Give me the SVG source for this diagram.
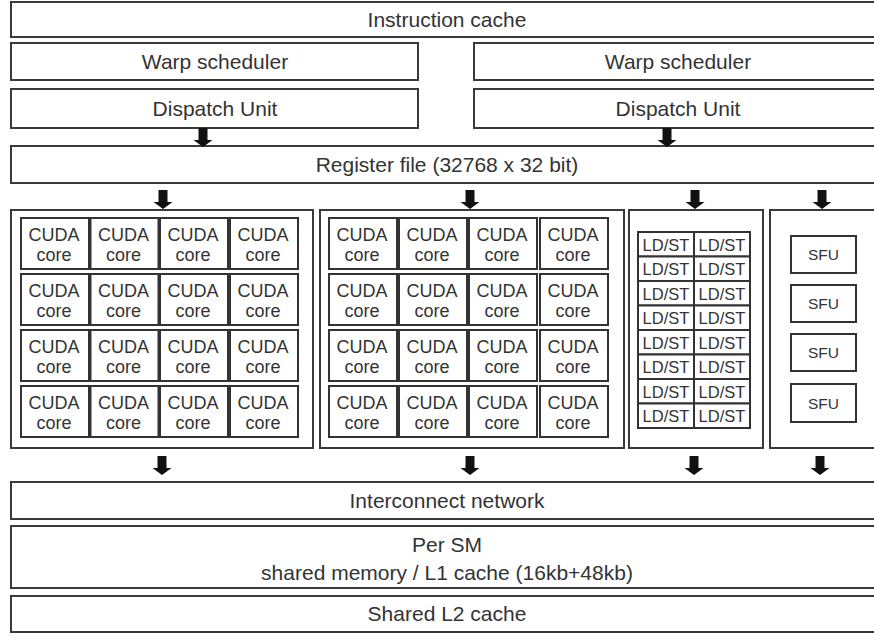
<svg xmlns="http://www.w3.org/2000/svg" width="874" height="637" viewBox="0 0 874 637">
<style>
  .box { fill: #fff; stroke: #3a3a3a; stroke-width: 2; }
  .cell { fill: #fff; stroke: #333; stroke-width: 2; }
  .t { font-family: "Liberation Sans", Arial, sans-serif; font-size: 21px; fill: #333; text-anchor: middle; }
  .c { font-family: "Liberation Sans", Arial, sans-serif; font-size: 18px; fill: #333; text-anchor: middle; }
  .ld { font-family: "Liberation Sans", Arial, sans-serif; font-size: 16.5px; fill: #333; text-anchor: middle; }
  .sfu { font-family: "Liberation Sans", Arial, sans-serif; font-size: 15.5px; fill: #333; text-anchor: middle; }
  .arr { fill: #111; }
</style>
<defs>
  <g id="cuda">
    <rect class="cell" x="0" y="0" width="68" height="51"/>
    <text class="c" x="33" y="23">CUDA</text>
    <text class="c" x="33" y="43">core</text>
  </g>
  <g id="ldst">
    <rect class="cell" x="0" y="0" width="56" height="24.5"/>
    <text class="ld" x="28" y="18.5">LD/ST</text>
  </g>
  <g id="arrow">
    <polygon points="-4.5,0 4.5,0 4.5,12 9.5,12 0,19 -9.5,12 -4.5,12"/>
  </g>
</defs>
<rect width="874" height="637" fill="#fff"/>

<g id="instruction-cache">
  <rect class="box" x="11" y="2" width="872" height="35"/>
  <text class="t" x="447" y="27">Instruction cache</text>
</g>
<g id="warp-scheduler-1">
  <rect class="box" x="11" y="43" width="407" height="37"/>
  <text class="t" x="215" y="69">Warp scheduler</text>
</g>
<g id="warp-scheduler-2">
  <rect class="box" x="474" y="43" width="409" height="37"/>
  <text class="t" x="678" y="69">Warp scheduler</text>
</g>
<g id="dispatch-unit-1">
  <rect class="box" x="11" y="89" width="407" height="39"/>
  <text class="t" x="215" y="116">Dispatch Unit</text>
</g>
<g id="dispatch-unit-2">
  <rect class="box" x="474" y="89" width="409" height="39"/>
  <text class="t" x="678" y="116">Dispatch Unit</text>
</g>
<g id="register-file">
  <rect class="box" x="11" y="146" width="872" height="37"/>
  <text class="t" x="447" y="172">Register file (32768 x 32 bit)</text>
</g>

<g id="cuda-block-1">
  <rect class="box" x="11" y="210" width="302" height="238"/>
  <use href="#cuda" x="21" y="218"/><use href="#cuda" x="90.5" y="218"/><use href="#cuda" x="160" y="218"/><use href="#cuda" x="230" y="218"/>
  <use href="#cuda" x="21" y="274"/><use href="#cuda" x="90.5" y="274"/><use href="#cuda" x="160" y="274"/><use href="#cuda" x="230" y="274"/>
  <use href="#cuda" x="21" y="330"/><use href="#cuda" x="90.5" y="330"/><use href="#cuda" x="160" y="330"/><use href="#cuda" x="230" y="330"/>
  <use href="#cuda" x="21" y="386"/><use href="#cuda" x="90.5" y="386"/><use href="#cuda" x="160" y="386"/><use href="#cuda" x="230" y="386"/>
</g>
<g id="cuda-block-2">
  <rect class="box" x="320" y="210" width="304" height="238"/>
  <use href="#cuda" x="329" y="218"/><use href="#cuda" x="399" y="218"/><use href="#cuda" x="469" y="218"/><use href="#cuda" x="540" y="218"/>
  <use href="#cuda" x="329" y="274"/><use href="#cuda" x="399" y="274"/><use href="#cuda" x="469" y="274"/><use href="#cuda" x="540" y="274"/>
  <use href="#cuda" x="329" y="330"/><use href="#cuda" x="399" y="330"/><use href="#cuda" x="469" y="330"/><use href="#cuda" x="540" y="330"/>
  <use href="#cuda" x="329" y="386"/><use href="#cuda" x="399" y="386"/><use href="#cuda" x="469" y="386"/><use href="#cuda" x="540" y="386"/>
</g>
<g id="ldst-block">
  <rect class="box" x="629" y="210" width="134" height="238"/>
  <use href="#ldst" x="638" y="232"/><use href="#ldst" x="694" y="232"/>
  <use href="#ldst" x="638" y="256.5"/><use href="#ldst" x="694" y="256.5"/>
  <use href="#ldst" x="638" y="281"/><use href="#ldst" x="694" y="281"/>
  <use href="#ldst" x="638" y="305.5"/><use href="#ldst" x="694" y="305.5"/>
  <use href="#ldst" x="638" y="330"/><use href="#ldst" x="694" y="330"/>
  <use href="#ldst" x="638" y="354.5"/><use href="#ldst" x="694" y="354.5"/>
  <use href="#ldst" x="638" y="379"/><use href="#ldst" x="694" y="379"/>
  <use href="#ldst" x="638" y="403.5"/><use href="#ldst" x="694" y="403.5"/>
</g>
<g id="sfu-block">
  <rect class="box" x="770" y="210" width="113" height="238"/>
  <rect class="cell" x="791" y="236" width="65" height="37"/><text class="sfu" x="823.5" y="260">SFU</text>
  <rect class="cell" x="791" y="285" width="65" height="37"/><text class="sfu" x="823.5" y="309">SFU</text>
  <rect class="cell" x="791" y="334" width="65" height="37"/><text class="sfu" x="823.5" y="358">SFU</text>
  <rect class="cell" x="791" y="384" width="65" height="38"/><text class="sfu" x="823.5" y="408.5">SFU</text>
</g>

<g id="interconnect-network">
  <rect class="box" x="11" y="482" width="872" height="37"/>
  <text class="t" x="447" y="508">Interconnect network</text>
</g>
<g id="shared-memory">
  <rect class="box" x="11" y="526" width="872" height="62"/>
  <text class="t" x="447" y="552">Per SM</text>
  <text class="t" x="447" y="580">shared memory / L1 cache (16kb+48kb)</text>
</g>
<g id="l2-cache">
  <rect class="box" x="11" y="596" width="872" height="36"/>
  <text class="t" x="447" y="621">Shared L2 cache</text>
</g>

<g id="connectors" class="arr">
  <use href="#arrow" x="203" y="128"/>
  <use href="#arrow" x="667" y="128"/>
  <use href="#arrow" x="163" y="190"/>
  <use href="#arrow" x="470" y="190"/>
  <use href="#arrow" x="695" y="190"/>
  <use href="#arrow" x="822" y="190"/>
  <use href="#arrow" x="162" y="456"/>
  <use href="#arrow" x="470" y="456"/>
  <use href="#arrow" x="694" y="456"/>
  <use href="#arrow" x="820" y="456"/>
</g>
</svg>
